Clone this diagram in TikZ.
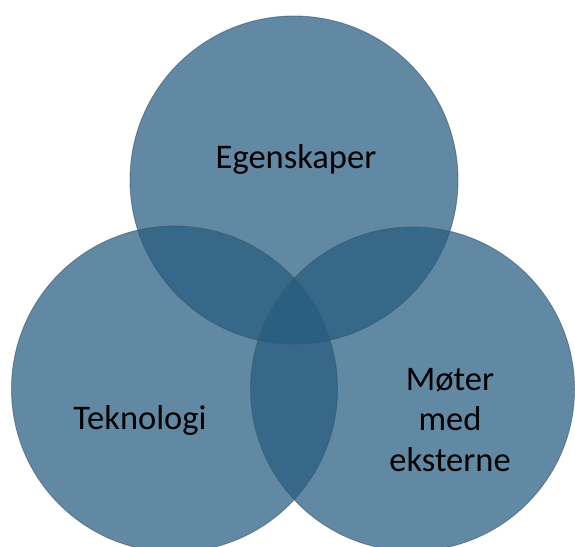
\documentclass[tikz,border=0pt]{standalone}
\usepackage{fontspec}
\setmainfont{Carlito}
\usepackage{xcolor}
\usepackage{tikz}

\definecolor{vennfill}{RGB}{38,91,127}
\definecolor{vennedge}{RGB}{62,88,108}

\begin{document}
\begin{tikzpicture}[x=1pt,y=1pt,yscale=-1,xscale=1]
\useasboundingbox (0,0) rectangle (575,546);
\clip (0,0) rectangle (575,546);
%Shape: Circle (top)
\draw [fill=vennfill, fill opacity=0.72, draw=vennedge, draw opacity=0.6, line width=0.9]  (294,180) circle [radius=164] ;
%Shape: Circle (left)
\draw [fill=vennfill, fill opacity=0.72, draw=vennedge, draw opacity=0.6, line width=0.9]  (174.5,389) circle [radius=163] ;
%Shape: Circle (right)
\draw [fill=vennfill, fill opacity=0.72, draw=vennedge, draw opacity=0.6, line width=0.9]  (412.5,389) circle [radius=162] ;
% Text Node
\draw (296,168) node [anchor=base][inner sep=0.75pt]  (egenskaper)  {\fontsize{34.5}{40.5}\selectfont Egenskaper};
% Text Node
\draw (140,429) node [anchor=base][inner sep=0.75pt]  (teknologi)  {\fontsize{34.5}{40.5}\selectfont Teknologi};
% Text Node
\draw (450,471) node [anchor=base][inner sep=0.75pt][align=center, font=\fontsize{34.5}{40.5}\selectfont]  (moter)  {Møter\\med\\eksterne};
\end{tikzpicture}
\end{document}
